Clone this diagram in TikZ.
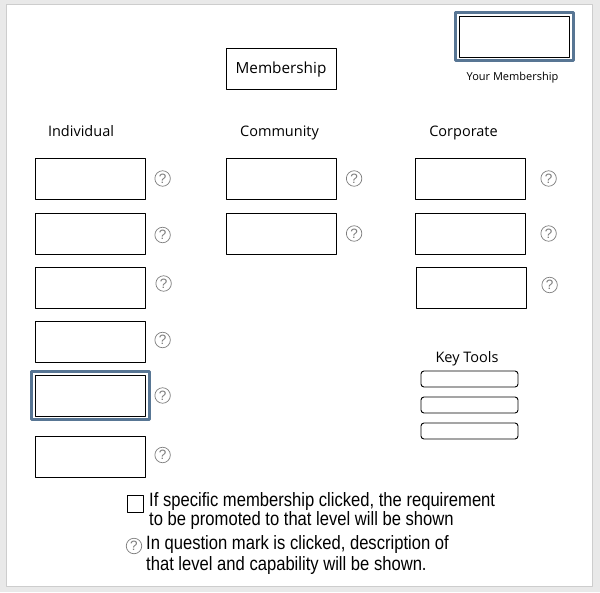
\documentclass[tikz,border=0pt]{standalone}
\usepackage{fontspec}
\setmainfont{Open Sans}
\newfontfamily\legendfont[FakeStretch=0.86]{Liberation Sans}
\newfontfamily\qfont{Liberation Sans}
\usetikzlibrary{positioning}
\definecolor{frameblue}{RGB}{88,118,148}
\definecolor{qgray}{RGB}{125,125,125}
\definecolor{pagegray}{RGB}{233,233,233}
\definecolor{edgegray}{RGB}{205,205,205}
\tikzset{
  field/.style={draw,line width=1pt,minimum width=110pt,minimum height=41pt,inner sep=0pt},
  hilite/.style={draw=frameblue,line width=3pt,minimum width=118pt,minimum height=48pt,inner sep=0pt},
  tool/.style={draw,line width=0.9pt,rounded corners=3pt,minimum width=97pt,minimum height=16pt,inner sep=0pt},
  qmark/.style={circle,draw=qgray,line width=0.7pt,minimum size=15.5pt,inner sep=0pt,text=qgray,
    font=\qfont\fontsize{13.5}{13}\selectfont},
  head/.style={font=\fontsize{14.5}{17}\selectfont,inner sep=0pt,anchor=base},
  legend/.style={font=\legendfont\fontsize{19.3}{17}\selectfont,align=left,inner sep=0pt}
}
\begin{document}
\begin{tikzpicture}[x=1pt,y=-1pt,line join=round]
  \fill[pagegray] (0,0) rectangle (600,592);
  \draw[edgegray,fill=white] (6,4) rectangle (592,586);
  % title and your membership
  \node[draw,line width=0.9pt,minimum width=110pt,minimum height=41pt,inner sep=0pt,text depth=0.7pt,
    font=\fontsize{15.3}{17}\selectfont] (title) at (281,68.5) {Membership};
  \node[field] (yours) at (514.5,36.5) {};
  \node[hilite] (yoursf) at (yours) {};
  \node[inner sep=0pt,anchor=base,font=\fontsize{11}{12}\selectfont] (yourslbl) at (512.5,80) {Your Membership};
  % column heads
  \node[head] (indiv) at (81,136) {Individual};
  \node[head] (comm) at (279.5,136) {Community};
  \node[head] (corp) at (463.5,136) {Corporate};
  % individual
  \node[field] (i1) at (90,178.5) {};
  \node[field] (i2) at (90,233.5) {};
  \node[field] (i3) at (90,287.5) {};
  \node[field] (i4) at (90,341.5) {};
  \node[field] (i5) at (90,395.5) {};
  \node[hilite] (i5f) at (i5) {};
  \node[field] (i6) at (90,456.5) {};
  \node[qmark,right=9pt of i1] (qi1) {?};
  \node[qmark,right=9pt of i2,yshift=-1.5pt] (qi2) {?};
  \node[qmark,right=10pt of i3,yshift=4pt] (qi3) {?};
  \node[qmark,right=9pt of i4,yshift=1.5pt] (qi4) {?};
  \node[qmark,right=9pt of i5] (qi5) {?};
  \node[qmark,right=9pt of i6,yshift=1.5pt] (qi6) {?};
  % community
  \node[field] (c1) at (281,178.5) {};
  \node[field] (c2) at (281,233.5) {};
  \node[qmark,right=9.5pt of c1] (qc1) {?};
  \node[qmark,right=9.5pt of c2] (qc2) {?};
  % corporate
  \node[field] (p1) at (470,178.5) {};
  \node[field] (p2) at (470,233.5) {};
  \node[field] (p3) at (471,287.5) {};
  \node[qmark,right=15pt of p1] (qp1) {?};
  \node[qmark,right=15pt of p2] (qp2) {?};
  \node[qmark,right=15pt of p3,yshift=2.5pt] (qp3) {?};
  % key tools
  \node[head] (keys) at (467,362) {Key Tools};
  \node[tool] (k1) at (469.5,379) {};
  \node[tool] (k2) at (469.5,405) {};
  \node[tool] (k3) at (469.5,431) {};
  % legend
  \node[draw,line width=0.9pt,minimum width=16pt,minimum height=17pt,inner sep=0pt] (box) at (135,503.5) {};
  \node[legend,anchor=base west] (boxtxt) at (149,525)
    {If specific membership clicked, the requirement\\to be promoted to that level will be shown};
  \node[qmark] (qkey) at (134,546) {?};
  \node[legend,anchor=base west] (qtxt) at (146,570)
    {In question mark is clicked, description of\\[2pt]that level and capability will be shown.};
\end{tikzpicture}
\end{document}
